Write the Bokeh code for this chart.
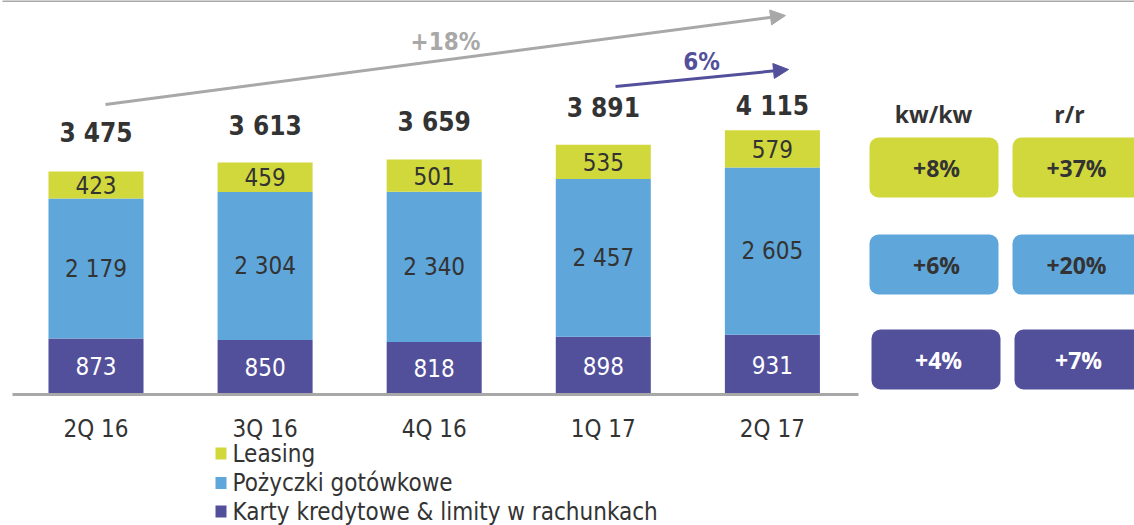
from bokeh.plotting import figure
from bokeh.models import Range1d, BoxAnnotation, Arrow, NormalHead, ColumnDataSource
from bokeh.core.properties import value
from bokeh.embed import file_html
from bokeh.resources import INLINE

# ---------------- data ----------------
categories = ["2Q 16", "3Q 16", "4Q 16", "1Q 17", "2Q 17"]
karty = [873, 850, 818, 898, 931]
pozyczki = [2179, 2304, 2340, 2457, 2605]
leasing = [423, 459, 501, 535, 579]
totals = [3475, 3613, 3659, 3891, 4115]
series_names = ["Leasing", "Pożyczki gotówkowe", "Karty kredytowe & limity w rachunkach"]
col_headers = ["kw/kw", "r/r"]
kwkw = ["+8%", "+6%", "+4%"]
rr = ["+37%", "+20%", "+7%"]
growth_total = "+18%"
growth_last = "6%"

# ---------------- style ----------------
LIME = "#D1D83B"
BLUE = "#5FA6DB"
PURPLE = "#53509B"
DARK = "#333333"
GRAY = "#A8A8A8"
FONT = "DejaVu Sans Condensed"
BFONT = "Open Sans"

W, H = 1134, 525
PPU_X = 169.1          # pixels per category
X0 = -95.5 / PPU_X
UPP = 15.576           # value units per pixel
Y0 = -(H - 394) * UPP


def X(px):  # page pixel -> data x
    return X0 + px / PPU_X


def Y(py):  # page pixel -> data y
    return Y0 + (H - py) * UPP


p = figure(width=W, height=H, x_range=Range1d(X0, X0 + W / PPU_X),
           y_range=Range1d(Y0, Y0 + H * UPP), output_backend="svg",
           toolbar_location=None, min_border=0, outline_line_color=None,
           x_axis_location=None, y_axis_location=None)
p.grid.visible = False

xs = list(range(len(categories)))
src = ColumnDataSource(dict(x=xs, karty=karty, pozyczki=pozyczki, leasing=leasing))
p.vbar_stack(["karty", "pozyczki", "leasing"], x="x", width=0.562, source=src,
             fill_color=[PURPLE, BLUE, LIME], line_color=None)

fmt = lambda v: f"{v:,}".replace(",", " ")
TS = "24px"

# segment labels
p.text(x=xs, y=[k / 2 for k in karty], text=[fmt(v) for v in karty],
       text_align="center", text_baseline="middle", text_font=value(FONT),
       text_font_size=TS, text_color="white")
p.text(x=xs, y=[k + b / 2 for k, b in zip(karty, pozyczki)], text=[fmt(v) for v in pozyczki],
       text_align="center", text_baseline="middle", text_font=value(FONT),
       text_font_size=TS, text_color=DARK)
p.text(x=xs, y=[k + b + l / 2 for k, b, l in zip(karty, pozyczki, leasing)],
       text=[fmt(v) for v in leasing],
       text_align="center", text_baseline="middle", text_font=value(FONT),
       text_font_size=TS, text_color=DARK)

# totals
gaps = [38, 37, 38, 37, 24]
p.text(x=xs, y=[t + g * UPP for t, g in zip(totals, gaps)], text=[fmt(v) for v in totals],
       text_align="center", text_baseline="middle", text_font=value(FONT),
       text_font_size="26px", text_font_style="bold", text_color=DARK)

# baseline and top rule
p.segment(x0=[X(12)], y0=[0], x1=[X(858)], y1=[0], line_color=GRAY, line_width=3)
p.segment(x0=[X(2)], y0=[Y(0.5)], x1=[X(1134)], y1=[Y(0.5)], line_color=GRAY, line_width=2)

# category labels
p.text(x=xs, y=[Y(428)] * len(xs), text=categories, text_align="center",
       text_baseline="middle", text_font=value(FONT), text_font_size=TS,
       text_color=DARK)

# growth arrows
p.add_layout(Arrow(x_start=X(105), y_start=Y(104), x_end=X(785), y_end=Y(15),
                   line_color=GRAY, line_width=3,
                   end=NormalHead(size=15, fill_color=GRAY, line_color=GRAY)))
p.add_layout(Arrow(x_start=X(615), y_start=Y(86), x_end=X(788), y_end=Y(69),
                   line_color=PURPLE, line_width=3,
                   end=NormalHead(size=15, fill_color=PURPLE, line_color=PURPLE)))
p.text(x=[X(445)], y=[Y(41)], text=[growth_total], text_align="center",
       text_baseline="middle", text_font=value(FONT), text_font_size="24px",
       text_font_style="bold", text_color=GRAY)
p.text(x=[X(701)], y=[Y(61)], text=[growth_last], text_align="center",
       text_baseline="middle", text_font=value(FONT), text_font_size="24px",
       text_font_style="bold", text_color=PURPLE)

# legend
leg_colors = [LIME, BLUE, PURPLE]
leg_y = [Y(453), Y(482.5), Y(511)]
p.rect(x=[X(220.5)] * 3, y=leg_y, width=11, height=12, width_units="screen",
       height_units="screen", fill_color=leg_colors, line_color=None)
p.text(x=[X(232)] * 3, y=leg_y, text=series_names, text_align="left",
       text_baseline="middle", text_font=value(FONT), text_font_size=TS,
       text_color=DARK)

# change boxes
row_fill = [LIME, BLUE, PURPLE]
row_txt = [DARK, DARK, "white"]
row_top = [137, 234, 329]
row_bot = [197, 294, 389]
row_dx = [0, 0, 2]
for i in range(3):
    for left, right in [(869, 998), (1012, 1150)]:
        p.add_layout(BoxAnnotation(left=X(left + row_dx[i]), right=X(right + row_dx[i]),
                                   top=Y(row_top[i]), bottom=Y(row_bot[i]),
                                   fill_color=row_fill[i], fill_alpha=1, line_color=None,
                                   border_radius=9, level="underlay"))
row_c = [(t + b) / 2 for t, b in zip(row_top, row_bot)]
p.text(x=[X(936 + d) for d in row_dx], y=[Y(c) for c in row_c], text=kwkw,
       text_align="center", text_baseline="middle", text_font=value(BFONT),
       text_font_size="23px", text_font_style="bold", text_color=row_txt)
p.text(x=[X(1076 + d) for d in row_dx], y=[Y(c) for c in row_c], text=rr,
       text_align="center", text_baseline="middle", text_font=value(BFONT),
       text_font_size="23px", text_font_style="bold", text_color=row_txt)
p.text(x=[X(933), X(1069)], y=[Y(113)] * 2, text=col_headers, text_align="center",
       text_baseline="middle", text_font=value(BFONT), text_font_size="23px",
       text_font_style="bold", text_color=DARK)

open("out.html", "w").write(file_html(p, INLINE))
